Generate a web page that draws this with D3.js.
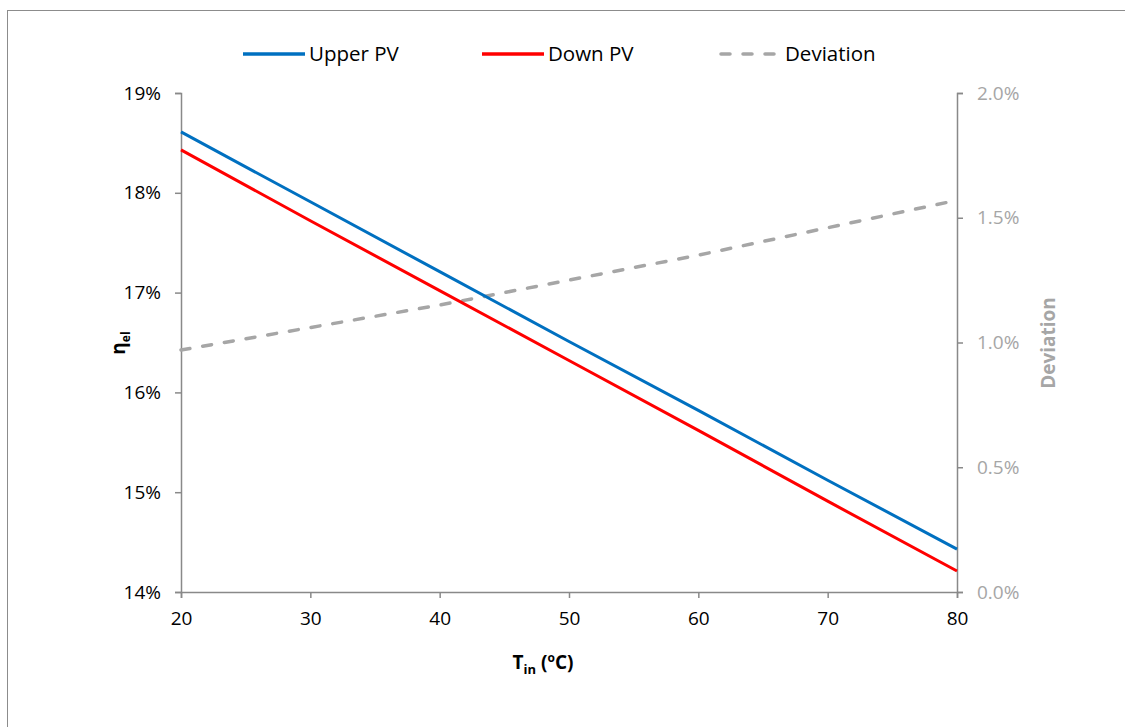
<!DOCTYPE html>
<html>
<head>
<meta charset="utf-8">
<style>
  body { margin: 0; background: #fff; }
  svg, svg text { font-family: "Open Sans", "Noto Sans", sans-serif; }
</style>
<script src="https://d3js.org/d3.v7.min.js"></script>
</head>
<body>
<svg width="1125" height="727"></svg>
<script>
// temperature (degC)
var tin = [20, 30, 40, 50, 60, 70, 80];
// electrical efficiency (%)
var upperPV = [18.61, 17.91, 17.21, 16.51, 15.82, 15.12, 14.43];
var downPV  = [18.43, 17.72, 17.02, 16.32, 15.62, 14.91, 14.21];
// deviation (%)
var deviation = [0.97, 1.06, 1.15, 1.25, 1.35, 1.46, 1.57];

var xTicks = [20, 30, 40, 50, 60, 70, 80];
var leftTicks = [14, 15, 16, 17, 18, 19];
var rightTicks = [0, 0.5, 1.0, 1.5, 2.0];

var svg = d3.select("svg");

// chart border
svg.append("rect")
  .attr("x", 7.5).attr("y", 10.5)
  .attr("width", 1130).attr("height", 730)
  .attr("fill", "none").attr("stroke", "#8c8c8c").attr("stroke-width", 1);

var pLeft = 181, pRight = 957, pTop = 93, pBottom = 592;

var x = d3.scaleLinear().domain([20, 80]).range([pLeft, pRight]);
var y = d3.scaleLinear().domain([14, 19]).range([pBottom, pTop]);
var y2 = d3.scaleLinear().domain([0, 2]).range([pBottom, pTop]);

var axisColor = "#898989";
var fs = 19;

// x axis
var gx = svg.append("g")
  .attr("transform", "translate(0," + pBottom + ")")
  .call(d3.axisBottom(x).tickValues(xTicks).tickSize(6).tickPadding(14).tickFormat(d3.format("d")));
gx.selectAll("text").attr("font-size", fs).attr("fill", "#000");

// left axis
var gy = svg.append("g")
  .attr("transform", "translate(" + pLeft + ",0)")
  .call(d3.axisLeft(y).tickValues(leftTicks).tickSize(6).tickPadding(14).tickFormat(function(d) { return d + "%"; }));
gy.selectAll("text").attr("font-size", fs).attr("fill", "#000");

// right axis
var gy2 = svg.append("g")
  .attr("transform", "translate(" + pRight + ",0)")
  .call(d3.axisRight(y2).tickValues(rightTicks).tickSize(6).tickPadding(14).tickFormat(function(d) { return d.toFixed(1) + "%"; }));
gy2.selectAll("text").attr("font-size", fs).attr("fill", "#a6a6a6");

svg.selectAll(".domain, .tick line").attr("stroke", axisColor).attr("stroke-width", 1.5);
svg.selectAll(".tick text").attr("font-family", "'Open Sans', sans-serif");

// lines
var lineL = d3.line().x(function(d, i) { return x(tin[i]); }).y(function(d) { return y(d); });
var lineR = d3.line().x(function(d, i) { return x(tin[i]); }).y(function(d) { return y2(d); });

svg.append("path").datum(deviation).attr("d", lineR)
  .attr("fill", "none").attr("stroke", "#a6a6a6").attr("stroke-width", 3.5)
  .attr("stroke-linecap", "round").attr("stroke-dasharray", "9,13");
svg.append("path").datum(upperPV).attr("d", lineL)
  .attr("fill", "none").attr("stroke", "#0070c0").attr("stroke-width", 3);
svg.append("path").datum(downPV).attr("d", lineL)
  .attr("fill", "none").attr("stroke", "#ff0000").attr("stroke-width", 3);

// axis titles
var xt = svg.append("text").attr("x", 543).attr("y", 669)
  .attr("text-anchor", "middle").attr("font-size", fs).attr("font-weight", "bold");
xt.append("tspan").text("T");
xt.append("tspan").attr("font-size", 13).attr("dy", 5).text("in");
xt.append("tspan").attr("dy", -5).text(" (");
xt.append("tspan").attr("font-size", 12).attr("dy", -7).text("o");
xt.append("tspan").attr("dy", 7).text("C)");

var yt = svg.append("text")
  .attr("transform", "translate(125,343) rotate(-90)")
  .attr("text-anchor", "middle").attr("font-size", fs).attr("font-weight", "bold");
yt.append("tspan").text("η");
yt.append("tspan").attr("font-size", 12).attr("dy", 5).text("el");

svg.append("text")
  .attr("transform", "translate(1055,343) rotate(-90)")
  .attr("text-anchor", "middle").attr("font-size", fs).attr("font-weight", "bold")
  .attr("fill", "#a6a6a6").text("Deviation");

// legend
var legend = [
  { name: "Upper PV", color: "#0070c0", dash: null, x: 243 },
  { name: "Down PV", color: "#ff0000", dash: null, x: 482 },
  { name: "Deviation", color: "#a6a6a6", dash: "9,13", x: 719 }
];
var lg = svg.selectAll(".legend").data(legend).enter().append("g")
  .attr("transform", function(d) { return "translate(" + d.x + ",54)"; });
lg.append("line").attr("x1", function(d) { return d.dash ? 2 : 0; }).attr("x2", 62).attr("y1", 0).attr("y2", 0)
  .attr("stroke", function(d) { return d.color; }).attr("stroke-width", 3.5)
  .attr("stroke-linecap", function(d) { return d.dash ? "round" : "butt"; })
  .attr("stroke-dasharray", function(d) { return d.dash; });
lg.append("text").attr("x", 66).attr("y", 7).attr("font-size", 20.5)
  .text(function(d) { return d.name; });
</script>
</body>
</html>
